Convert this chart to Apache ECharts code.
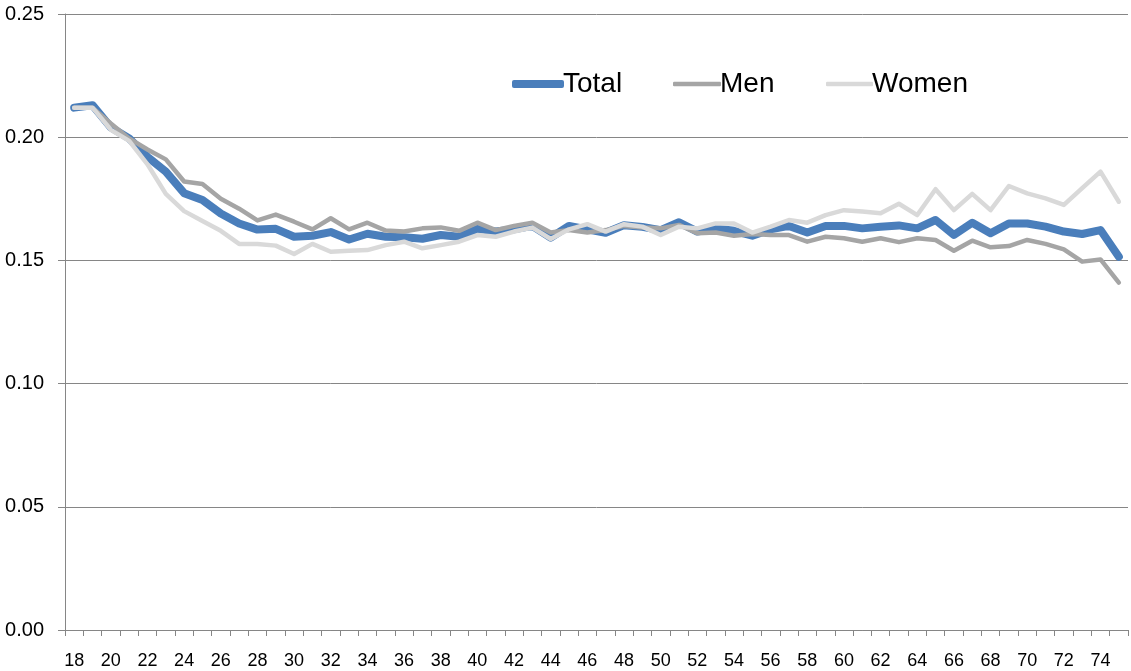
<!DOCTYPE html>
<html>
<head>
<meta charset="utf-8">
<script src="https://cdn.jsdelivr.net/npm/echarts@6/dist/echarts.min.js"></script>
<style>
html,body{margin:0;padding:0;background:#fff;}
#chart{width:1131px;height:671px;}
</style>
</head>
<body>
<div id="chart"></div>
<script>
var ages = [];
for (var a = 18; a <= 75; a++) ages.push(String(a));

var total = [0.212,0.213,0.204,0.1995,0.192,0.186,0.1773,0.1745,0.169,0.165,
0.1625,0.1628,0.1596,0.1600,0.1615,0.1585,0.1608,0.1596,0.1594,0.1588,
0.1603,0.1596,0.1628,0.1617,0.1626,0.1640,0.1592,0.1640,0.1626,0.1612,
0.1643,0.1636,0.1623,0.1655,0.1617,0.1630,0.1620,0.1600,0.1626,0.1640,
0.1613,0.1640,0.1640,0.1630,0.1637,0.1642,0.1630,0.1664,0.1603,0.1653,
0.1610,0.1650,0.1650,0.1637,0.1617,0.1607,0.1623,0.1515];

var men = [0.212,0.212,0.2056,0.1995,0.1950,0.1910,0.1820,0.1810,0.1750,0.1710,
0.1662,0.1686,0.1657,0.1626,0.1671,0.1626,0.1653,0.1621,0.1617,0.1630,
0.1634,0.1620,0.1653,0.1623,0.1640,0.1653,0.1613,0.1623,0.1613,0.1623,
0.1640,0.1634,0.1630,0.1644,0.1610,0.1613,0.1600,0.1607,0.1603,0.1603,
0.1576,0.1596,0.1590,0.1576,0.1590,0.1574,0.1590,0.1583,0.1539,0.1580,
0.1553,0.1558,0.1583,0.1567,0.1545,0.1495,0.1504,0.1410];

var women = [0.212,0.212,0.2030,0.1985,0.1890,0.1770,0.1700,0.1660,0.1620,0.1567,
0.1567,0.1560,0.1526,0.1567,0.1535,0.1539,0.1542,0.1562,0.1576,0.1549,
0.1562,0.1576,0.1603,0.1596,0.1617,0.1633,0.1587,0.1626,0.1647,0.1617,
0.1647,0.1637,0.1603,0.1637,0.1630,0.1650,0.1650,0.1613,0.1637,0.1664,
0.1653,0.1684,0.1704,0.1698,0.1691,0.1730,0.1684,0.1789,0.1704,0.1770,
0.1704,0.1802,0.1772,0.1752,0.1725,0.1793,0.1860,0.1738];

var seriesNames = ['Total','Men','Women'];
var colors = ['#4A7EBB','#A5A5A5','#D9D9D9'];
var widths = [8,4.5,4.5];

var font = 'Liberation Sans, Arial, sans-serif';
var chart = echarts.init(document.getElementById('chart'), null, {renderer:'canvas'});

function mkLegend(i, left, iw) {
  return {
    data: [{name: seriesNames[i], icon: 'roundRect', itemStyle: {color: colors[i], borderWidth: 0}}],
    left: left, top: 64,
    itemWidth: iw, itemHeight: widths[i], itemGap: 0,
    textStyle: {fontSize: 28, fontFamily: font, color: '#000', lineHeight: 30, padding: [0,0,0,-6]},
    selectedMode: false
  };
}

var data = [total, men, women];
var option = {
  animation: false,
  backgroundColor: '#fff',
  grid: {left: 65, right: 3, top: 14, bottom: 41, containLabel: false},
  legend: [mkLegend(0, 507, 52), mkLegend(1, 668, 48), mkLegend(2, 821, 47)],
  xAxis: {
    type: 'category',
    data: ages,
    boundaryGap: true,
    axisLine: {lineStyle: {color: '#868686', width: 1}},
    axisTick: {show: true, interval: 0, length: 6, lineStyle: {color: '#868686'}},
    axisLabel: {interval: 1, fontSize: 18, fontFamily: font, color: '#000', margin: 22}
  },
  yAxis: {
    type: 'value',
    min: 0, max: 0.25, interval: 0.05,
    axisLine: {show: true, lineStyle: {color: '#868686', width: 1}},
    axisTick: {show: true, length: 7, lineStyle: {color: '#868686'}},
    splitLine: {show: true, lineStyle: {color: '#868686', width: 1}},
    axisLabel: {fontSize: 20, fontFamily: font, color: '#000', margin: 21,
      formatter: function (v) { return v.toFixed(2); }}
  },
  series: seriesNames.map(function (n, i) {
    return {
      name: n, type: 'line', data: data[i],
      symbol: 'none', showSymbol: false,
      lineStyle: {color: colors[i], width: widths[i], cap: 'round', join: 'round'},
      itemStyle: {color: colors[i]},
      z: 2 + i
    };
  })
};
chart.setOption(option);
</script>
</body>
</html>
